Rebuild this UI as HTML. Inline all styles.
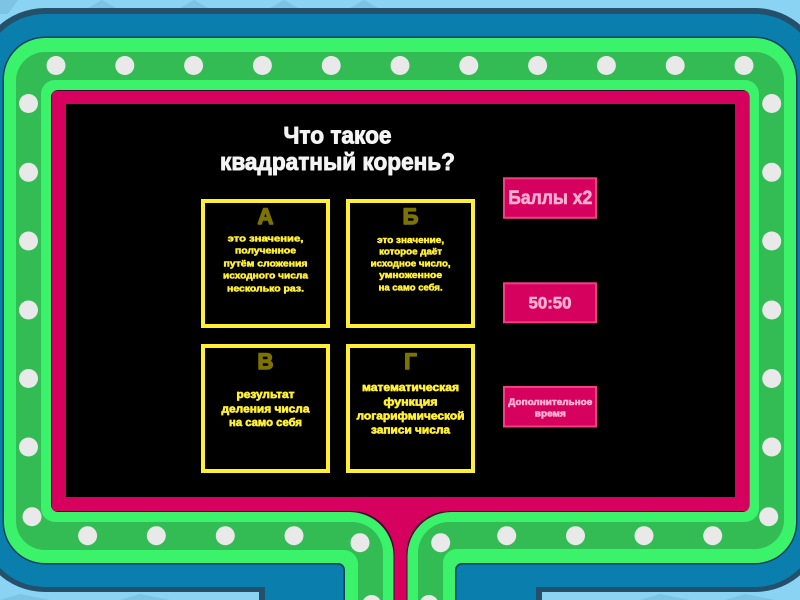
<!DOCTYPE html>
<html><head><meta charset="utf-8"><style>
html,body{margin:0;padding:0;background:#8bd3f3;width:800px;height:600px;overflow:hidden}
svg{display:block}
text{font-family:"Liberation Sans",sans-serif;font-weight:bold;text-anchor:middle;stroke-linejoin:round}
.a{fill:#fff033;stroke:#fff033;stroke-width:.55;font-size:9.5px}
.b{fill:#fff033;stroke:#fff033;stroke-width:.65;font-size:11px}
.l{fill:#7d7400;stroke:#7d7400;stroke-width:1.4;font-size:22px}
.t{fill:#f4f4f4;stroke:#f4f4f4;stroke-width:.9;font-size:24px}
.p{fill:#ffb0d2;stroke:#ffb0d2;stroke-width:.6}
</style></head><body>
<svg width="800" height="600" viewBox="0 0 800 600" xmlns="http://www.w3.org/2000/svg">
<rect width="800" height="600" fill="#8bd3f3"/>
<g fill="#7cc3e4">
<path d="M0 0H18L8 14H0Z"/><path d="M88 8L102 0L116 8Z"/><path d="M180 8L194 0L208 8Z"/><path d="M270 8L284 0L298 8Z"/><path d="M350 8L364 0L378 8Z"/>
</g>
<g fill="#7cc3e4">
<path d="M0 600L20 594L50 600Z"/><path d="M120 600L140 594L170 600Z"/><path d="M640 600L660 594L690 600Z"/><path d="M725 600L745 594L775 600Z"/>
</g>
<!-- navy frame -->
<path d="M259 600V592H45A69 69 0 0 1 -24 523V77A69 69 0 0 1 45 8H755A69 69 0 0 1 824 77V523A69 69 0 0 1 755 592H542V600Z" fill="#24506b"/>
<!-- blue frame -->
<path d="M265 600V587H45A63 63 0 0 1 -18 524V77A63 63 0 0 1 45 14H755A63 63 0 0 1 818 77V524A63 63 0 0 1 755 587H536V600Z" fill="#0a7fae"/>
<!-- dark edge -->
<path d="M343.500 600V571A6 6 0 0 0 337 564.500H45A42.500 42.500 0 0 1 2.500 522V79A42.500 42.500 0 0 1 45 36.500H755A42.500 42.500 0 0 1 797.500 79V522A42.500 42.500 0 0 1 755 564.500H463A6 6 0 0 0 456.500 571V600Z" fill="#123f5c"/>
<!-- light green -->
<path d="M345 600V570A7 7 0 0 0 338 563H45A41 41 0 0 1 4 522V79A41 41 0 0 1 45 38H755A41 41 0 0 1 796 79V522A41 41 0 0 1 755 563H462A7 7 0 0 0 455 570V600Z" fill="#3bf26b"/>
<!-- mid green -->
<path d="M358 600V564A14 14 0 0 0 344 550H45A29 29 0 0 1 16 521V81A29 29 0 0 1 45 52H755A29 29 0 0 1 784 81V520A29 29 0 0 1 755 549H457A14 14 0 0 0 443 564V600Z" fill="#33bb54"/>
<!-- inner light green -->
<path d="M383 600V553A31 31 0 0 0 352 522H55A14 14 0 0 1 41 508V94A14 14 0 0 1 55 80H745A14 14 0 0 1 759 94V508A14 14 0 0 1 745 522H449A31 31 0 0 0 418 553V600Z" fill="#3bf26b"/>
<!-- dark pink edge -->
<path d="M393.500 600V556A44 44 0 0 0 349.500 512H58A7 7 0 0 1 51 505V97A7 7 0 0 1 58 90H742A7 7 0 0 1 749.500 97V505A7 7 0 0 1 742 512H451.500A44 44 0 0 0 407.500 556V600Z" fill="#3d0a2c"/>
<!-- pink -->
<path d="M394.500 600V556A43 43 0 0 0 351 511H56A4 4 0 0 1 52 507V95A4 4 0 0 1 56 91H745A4 4 0 0 1 749 95V507A4 4 0 0 1 745 511H450A43 43 0 0 0 406.500 556V600Z" fill="#d6015f"/>
<rect x="66" y="104" width="669" height="393" fill="#000"/>
<!-- dots -->
<g fill="#e9e9e9">
<circle cx="56" cy="65.500" r="9.500"/><circle cx="124.800" cy="65.500" r="9.500"/><circle cx="193.600" cy="65.500" r="9.500"/><circle cx="262.400" cy="65.500" r="9.500"/><circle cx="331.200" cy="65.500" r="9.500"/><circle cx="400" cy="65.500" r="9.500"/><circle cx="468.800" cy="65.500" r="9.500"/><circle cx="537.600" cy="65.500" r="9.500"/><circle cx="606.400" cy="65.500" r="9.500"/><circle cx="675.200" cy="65.500" r="9.500"/><circle cx="744" cy="65.500" r="9.500"/>
<circle cx="28.500" cy="103.500" r="9.500"/><circle cx="28.500" cy="172.300" r="9.500"/><circle cx="28.500" cy="241" r="9.500"/><circle cx="28.500" cy="310" r="9.500"/><circle cx="28.500" cy="378.500" r="9.500"/><circle cx="28.500" cy="447" r="9.500"/><circle cx="32" cy="516.700" r="9.500"/>
<circle cx="771.700" cy="103.500" r="9.500"/><circle cx="771.700" cy="172.300" r="9.500"/><circle cx="771.700" cy="241" r="9.500"/><circle cx="771.700" cy="310" r="9.500"/><circle cx="771.700" cy="378.500" r="9.500"/><circle cx="771.700" cy="447" r="9.500"/><circle cx="768.700" cy="516.700" r="9.500"/>
<circle cx="87.600" cy="535.700" r="9.500"/><circle cx="156.300" cy="535.700" r="9.500"/><circle cx="225.300" cy="535.700" r="9.500"/><circle cx="294" cy="535.700" r="9.500"/><circle cx="360" cy="542.700" r="9.500"/><circle cx="371.700" cy="604.500" r="9.500"/>
<circle cx="440.700" cy="542.700" r="9.500"/><circle cx="429" cy="604.500" r="9.500"/><circle cx="506.700" cy="535.700" r="9.500"/><circle cx="575.500" cy="535.700" r="9.500"/><circle cx="644" cy="535.700" r="9.500"/><circle cx="712.700" cy="535.700" r="9.500"/>
</g>
<!-- title -->
<text class="t" x="337.500" y="143.300" textLength="108" lengthAdjust="spacingAndGlyphs">Что такое</text>
<text class="t" x="337.500" y="170" textLength="235" lengthAdjust="spacingAndGlyphs">квадратный корень?</text>
<!-- cards -->
<g fill="none" stroke="#fff033" stroke-width="4">
<rect x="203" y="201" width="125" height="125"/><rect x="348" y="201" width="125" height="125"/>
<rect x="203" y="346" width="125" height="125"/><rect x="348" y="346" width="125" height="125"/>
</g>
<text class="l" x="265.500" y="224">А</text><text class="l" x="410.500" y="224">Б</text>
<text class="l" x="265.500" y="369">В</text><text class="l" x="410.500" y="369">Г</text>
<text class="a" x="265.500" y="241.500" textLength="75.700" lengthAdjust="spacingAndGlyphs">это значение,</text>
<text class="a" x="265.500" y="253.700" textLength="61" lengthAdjust="spacingAndGlyphs">полученное</text>
<text class="a" x="265.500" y="266.300" textLength="84" lengthAdjust="spacingAndGlyphs">путём сложения</text>
<text class="a" x="265.500" y="278.700" textLength="85" lengthAdjust="spacingAndGlyphs">исходного числа</text>
<text class="a" x="265.500" y="291.300" textLength="77" lengthAdjust="spacingAndGlyphs">несколько раз.</text>
<text class="a" x="410.600" y="243" textLength="67" lengthAdjust="spacingAndGlyphs">это значение,</text>
<text class="a" x="410.600" y="254.700" textLength="63" lengthAdjust="spacingAndGlyphs">которое даёт</text>
<text class="a" x="410.600" y="266.300" textLength="80" lengthAdjust="spacingAndGlyphs">исходное число,</text>
<text class="a" x="410.600" y="278" textLength="63" lengthAdjust="spacingAndGlyphs">умноженное</text>
<text class="a" x="410.600" y="290.300" textLength="64" lengthAdjust="spacingAndGlyphs">на само себя.</text>
<text class="b" x="265.500" y="398" textLength="58" lengthAdjust="spacingAndGlyphs">результат</text>
<text class="b" x="265.500" y="412.500" textLength="88" lengthAdjust="spacingAndGlyphs">деления числа</text>
<text class="b" x="265.500" y="426" textLength="73" lengthAdjust="spacingAndGlyphs">на само себя</text>
<text class="b" x="410.500" y="391" textLength="97" lengthAdjust="spacingAndGlyphs">математическая</text>
<text class="b" x="410.500" y="405.300" textLength="54" lengthAdjust="spacingAndGlyphs">функция</text>
<text class="b" x="410.500" y="419.500" textLength="108" lengthAdjust="spacingAndGlyphs">логарифмической</text>
<text class="b" x="410.500" y="433.700" textLength="79" lengthAdjust="spacingAndGlyphs">записи числа</text>
<!-- buttons -->
<g fill="#d6015f" stroke="#f0407f" stroke-width="2">
<rect x="504" y="178.300" width="92" height="39.500"/><rect x="504" y="283.300" width="92" height="39"/><rect x="504" y="387" width="92" height="39.500"/>
</g>
<text class="p" x="550.300" y="204" font-size="19" textLength="84" lengthAdjust="spacingAndGlyphs">Баллы x2</text>
<text class="p" x="550" y="308.300" font-size="17" textLength="43" lengthAdjust="spacingAndGlyphs">50:50</text>
<text class="p" x="550.300" y="405" font-size="9.500" textLength="84" lengthAdjust="spacingAndGlyphs">Дополнительное</text>
<text class="p" x="550.300" y="416.700" font-size="9.500" textLength="31" lengthAdjust="spacingAndGlyphs">время</text>
</svg>
</body></html>
